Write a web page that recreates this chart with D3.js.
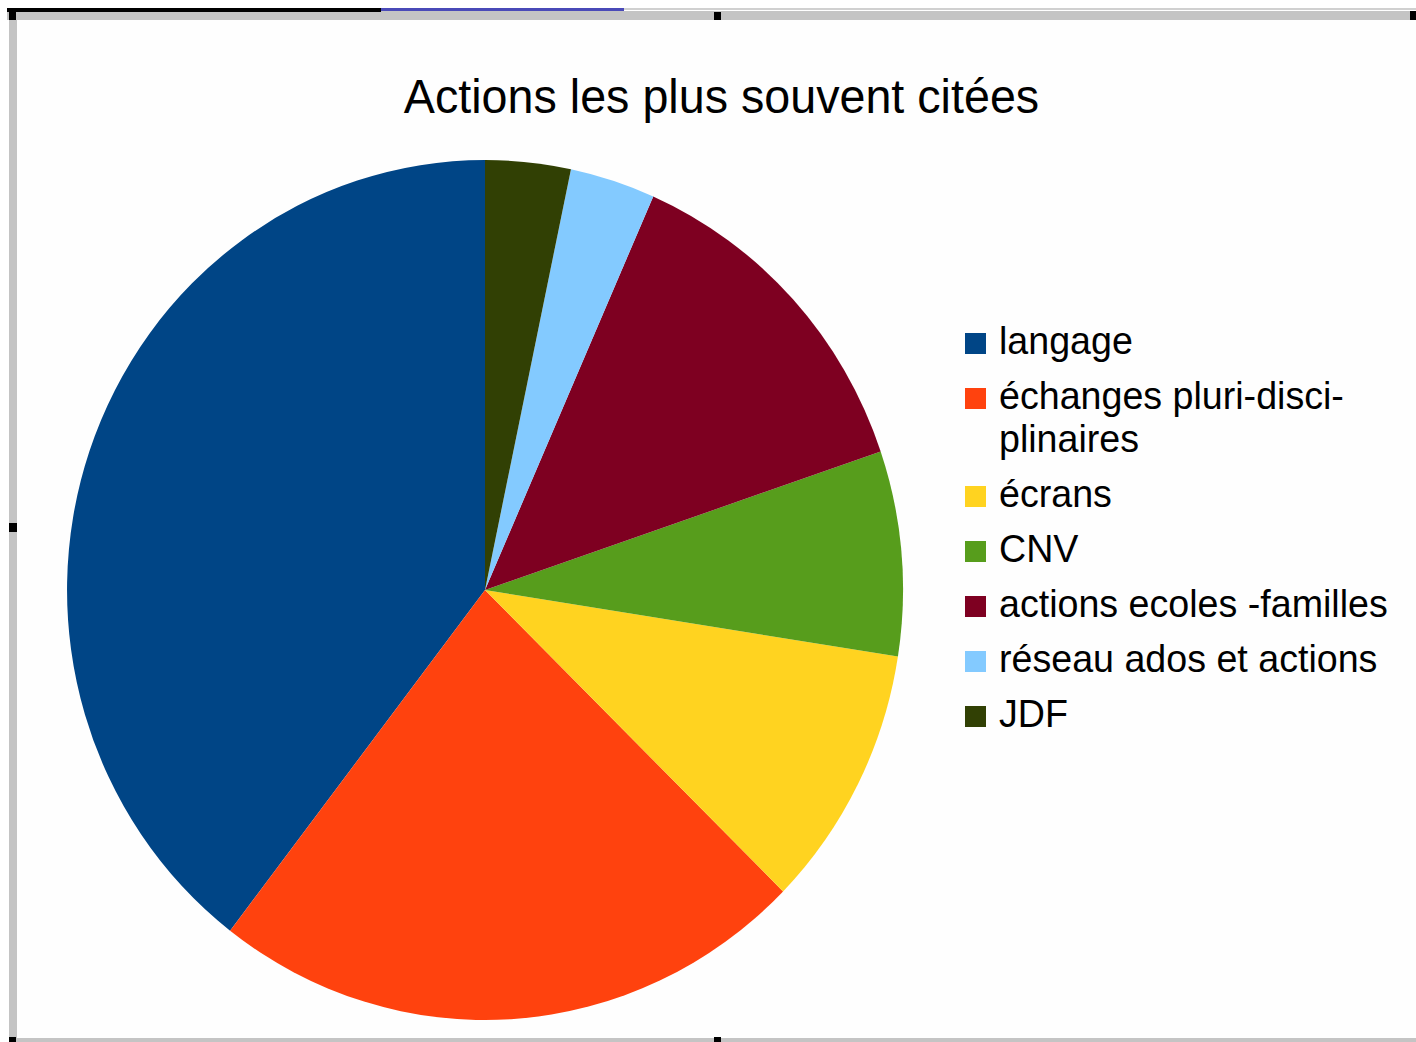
<!DOCTYPE html>
<html>
<head>
<meta charset="utf-8">
<script src="https://cdn.jsdelivr.net/npm/d3@7"></script>
<style>
  html, body { margin: 0; padding: 0; background: #fff; }
  svg { display: block; }
</style>
</head>
<body>
<svg id="chart" width="1416" height="1042"></svg>
<script>
// ---- data ----
const title = "Actions les plus souvent citées";
const categories = ["langage", "échanges pluri-disciplinaires", "écrans", "CNV", "actions ecoles -familles", "réseau ados et actions", "JDF"];
const legendLines = [["langage"], ["échanges pluri-disci-", "plinaires"], ["écrans"], ["CNV"], ["actions ecoles -familles"], ["réseau ados et actions"], ["JDF"]];
const values = [36, 21, 9, 7, 12, 3, 3];
const colors = ["#004586", "#ff420e", "#ffd320", "#579d1c", "#7e0021", "#83caff", "#314004"];

// ---- drawing ----
const svg = d3.select("#chart");
const sx = 0.972;

// frame / selection chrome
svg.append("rect").attr("x", 7).attr("y", 11).attr("width", 1409).attr("height", 9).attr("fill", "#c4c4c4");
svg.append("rect").attr("x", 9).attr("y", 11).attr("width", 8).attr("height", 1031).attr("fill", "#c4c4c4");
svg.append("rect").attr("x", 17).attr("y", 20).attr("width", 1399).attr("height", 1018).attr("fill", "#fefefe");
svg.append("rect").attr("x", 7).attr("y", 8).attr("width", 374).attr("height", 4).attr("fill", "#000");
svg.append("rect").attr("x", 381).attr("y", 8).attr("width", 243).attr("height", 3).attr("fill", "#4a4ab8");
svg.append("rect").attr("x", 624).attr("y", 8).attr("width", 792).attr("height", 2).attr("fill", "#d0d0d0");
svg.append("rect").attr("x", 9).attr("y", 1038).attr("width", 1407).attr("height", 4).attr("fill", "#c4c4c4");
const handles = [[9, 11, 7, 9], [714, 12, 7, 8], [1410, 11, 6, 9], [9, 523, 8, 9], [9, 1037, 7, 5], [714, 1037, 7, 5]];
svg.selectAll("rect.handle").data(handles).enter().append("rect")
  .attr("class", "handle")
  .attr("x", d => d[0]).attr("y", d => d[1]).attr("width", d => d[2]).attr("height", d => d[3])
  .attr("fill", "#000");

// title
svg.append("g").attr("transform", `translate(721.5,112.5) scale(${sx},1)`)
  .append("text")
  .attr("text-anchor", "middle")
  .attr("font-family", "'Liberation Sans', Arial, sans-serif")
  .attr("font-size", 48)
  .attr("fill", "#000")
  .text(title);

// pie (counterclockwise from 12 o'clock)
const pie = d3.pie().sort(null).startAngle(0).endAngle(-2 * Math.PI).value(d => d);
const arc = d3.arc().innerRadius(0).outerRadius(430);
const pg = svg.append("g").attr("transform", `translate(485,590) scale(${sx},1)`);
pg.selectAll("path").data(pie(values)).enter().append("path")
  .attr("d", arc)
  .attr("fill", (d, i) => colors[i]);

// legend
const legendY = d3.scaleOrdinal().domain(categories);
let y = 354;
const rowYs = [];
legendLines.forEach((lines) => { rowYs.push(y); y += 55 + (lines.length - 1) * 43; });
legendY.range(rowYs);

const lg = svg.append("g");
const items = lg.selectAll("g.item").data(categories).enter().append("g")
  .attr("class", "item")
  .attr("transform", d => `translate(0,${legendY(d)})`);
items.append("rect")
  .attr("x", 965).attr("y", -21).attr("width", 21).attr("height", 21)
  .attr("fill", (d, i) => colors[i]);
items.each(function(d, i) {
  const g = d3.select(this).append("g").attr("transform", `translate(999,0) scale(0.99,1)`);
  legendLines[i].forEach((line, j) => {
    g.append("text")
      .attr("x", 0).attr("y", j * 43)
      .attr("font-family", "'Liberation Sans', Arial, sans-serif")
      .attr("font-size", 38)
      .attr("fill", "#000")
      .text(line);
  });
});
</script>
</body>
</html>
